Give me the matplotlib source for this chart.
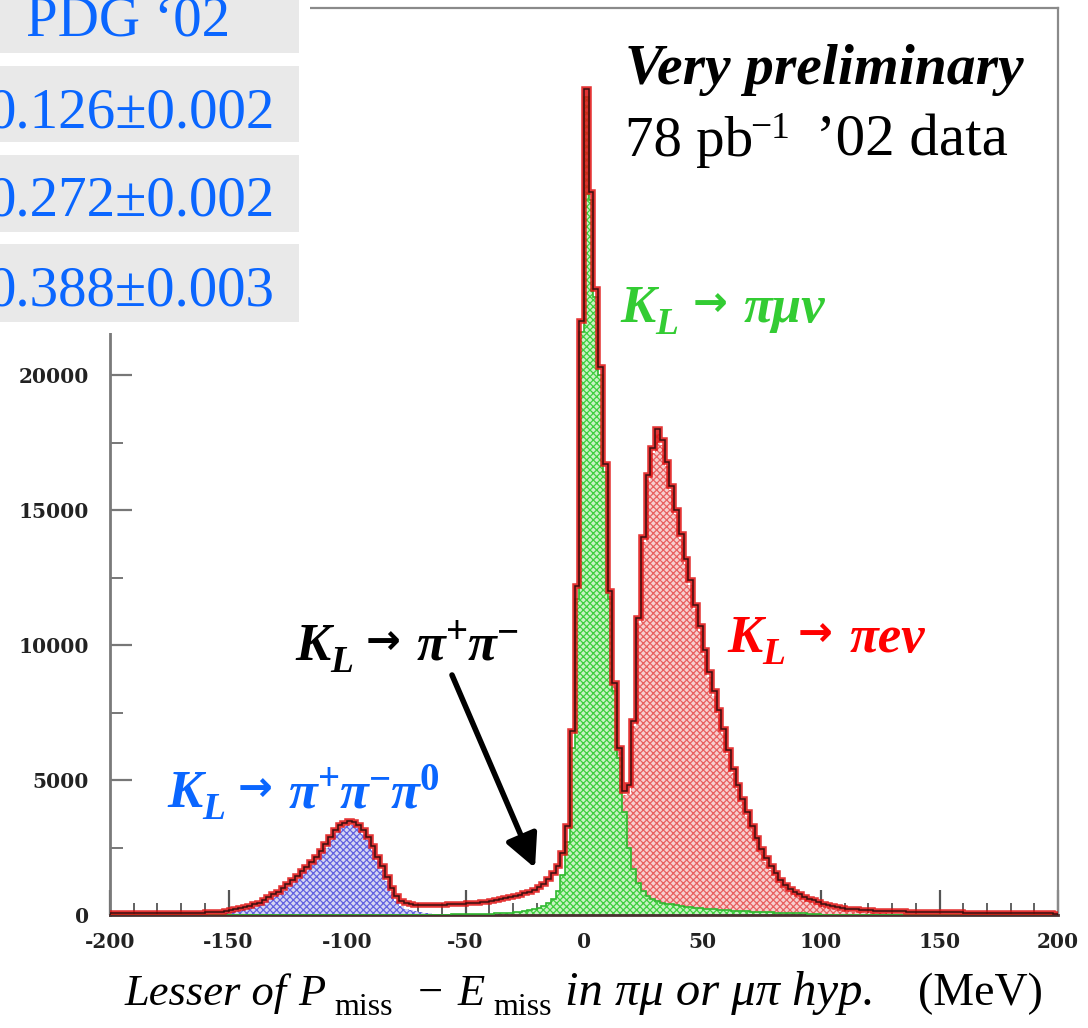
import numpy as np
import matplotlib
matplotlib.use("Agg")
import matplotlib.pyplot as plt
from matplotlib.patches import Rectangle
from matplotlib.ticker import MultipleLocator

# ---------------- data (2 MeV bins from -200 to 200) ----------------
BIN_LO, BIN_HI, BIN_W = -200, 200, 2

# observed data (total), bin centres -199 ... 199
data_total = [
    60, 60, 65, 60, 70, 65, 70, 70, 75, 70,
    75, 75, 80, 75, 80, 85, 80, 85, 90, 90,
    95, 100, 110, 125, 145, 175, 210, 250, 290, 330,
    390, 460, 560, 660, 760, 870, 1000, 1150, 1300, 1450,
    1620, 1780, 1950, 2150, 2380, 2620, 2900, 3150, 3350, 3420,
    3480, 3450, 3350, 3150, 2900, 2550, 2150, 1800, 1400, 1000,
    700, 520, 430, 400, 380, 370, 370, 370, 375, 380,
    385, 390, 400, 410, 420, 430, 445, 460, 480, 500,
    530, 560, 590, 620, 660, 700, 750, 800, 860, 930,
    1020, 1150, 1350, 1550, 1800, 2300, 3300, 6800, 12200, 22000,
    30600, 26800, 23200, 20300, 16700, 12000, 8600, 6200, 4600, 4800,
    7200, 11000, 14000, 16300, 17300, 18000, 17600, 16800, 15900, 15000,
    14100, 13200, 12400, 11500, 10700, 9800, 9000, 8300, 7600, 6900,
    6100, 5400, 4800, 4300, 3800, 3300, 2850, 2450, 2100, 1800,
    1550, 1300, 1120, 980, 860, 760, 680, 610, 540, 480,
    420, 370, 330, 295, 265, 240, 220, 205, 190, 180,
    170, 160, 155, 150, 145, 140, 135, 130, 125, 120,
    118, 115, 112, 110, 108, 105, 102, 100, 98, 95,
    92, 90, 88, 85, 83, 80, 78, 76, 74, 72,
    70, 68, 66, 65, 63, 62, 60, 58, 57, 55,
]

# K_L -> pi mu nu (MC), starting at -60 MeV
pimunu_start = -60
pimunu = [
    15, 18, 20, 22, 25, 28, 32, 36, 40, 45,
    50, 58, 66, 75, 85, 100, 120, 145, 175, 210,
    260, 330, 430, 600, 900, 1500, 2700, 6200, 11700, 21600,
    30300, 26500, 22900, 20000, 16400, 11700, 8300, 5800, 3800, 2500,
    1700, 1200, 900, 720, 600, 520, 460, 420, 390, 360,
    335, 310, 290, 270, 250, 235, 220, 205, 190, 180,
    170, 160, 150, 140, 130, 122, 115, 108, 100, 95,
    90, 85, 80, 75, 70, 65, 60, 55, 50, 45,
]

# K_L -> pi e nu (MC), starting at +10 MeV
pienu_start = 10
pienu = [
    100, 200, 350, 650, 2000,
    5300, 9600, 12900, 15400, 16500, 17300, 16950, 16200, 15350, 14500,
    13600, 12700, 11950, 11050, 10270, 9390, 8600, 7920, 7240, 6560,
    5800, 5110, 4520, 4030, 3540, 3050, 2610, 2220, 1880, 1590,
    1370, 1125, 950, 815, 700, 605, 530, 465, 400, 345,
    290, 245, 210, 180, 155, 135, 120, 105, 95, 85,
    78, 70, 65, 60, 55, 50, 46, 42, 38, 35,
    32, 30, 28, 26, 24, 22, 20, 18, 16, 15,
]

# K_L -> pi+ pi- pi0 (MC), starting at -160 MeV
pipipi0_start = -160
pipipi0 = [
    20, 25, 35, 50, 70, 100, 135, 175, 215, 255,
    310, 380, 475, 570, 670, 775, 900, 1050, 1195, 1345,
    1515, 1670, 1840, 2035, 2265, 2500, 2780, 3030, 3225, 3295,
    3350, 3320, 3215, 3015, 2765, 2410, 2005, 1650, 1245, 840,
    530, 340, 230, 170, 130, 100, 80, 60, 45, 35,
    25, 20, 15, 10, 8, 6, 4, 3, 2, 1,
]

x_ticks = [-200, -150, -100, -50, 0, 50, 100, 150, 200]
y_ticks = [0, 5000, 10000, 15000, 20000]

pdg_header = "PDG \u201802"
pdg_values = ["0.126\u00b10.002", "0.272\u00b10.002", "0.388\u00b10.003"]

# ---------------- helpers ----------------
W, H = 1088, 1028
edges = np.arange(BIN_LO, BIN_HI + BIN_W, BIN_W)
nb = len(edges) - 1


def place(values, start):
    out = np.zeros(nb)
    i0 = (start - BIN_LO) // BIN_W
    out[i0:i0 + len(values)] = values
    return out


g = place(pimunu, pimunu_start)
r = place(pienu, pienu_start)
b = place(pipipi0, pipipi0_start)
tot = np.array(data_total, dtype=float)
mc_total = np.maximum(tot, g + r + b)

fig = plt.figure(figsize=(W / 100, H / 100), dpi=100)
fig.patch.set_facecolor("white")

ax = fig.add_axes([110 / W, (H - 915) / H, 948 / W, 907 / H])
ax.set_xlim(-200, 200)
ax.set_ylim(0, 33600)

plt.rcParams["hatch.linewidth"] = 0.9

# stacked components: green (bottom), red, blue
c0 = np.zeros(nb)
c1 = g
c2 = g + r
c3 = g + r + b
ax.stairs(c1, edges, baseline=c0, fill=True, facecolor="#c9f2c4",
          edgecolor="#3fcf3f", hatch="xxxxx", linewidth=0, zorder=2)
ax.stairs(c2, edges, baseline=c1, fill=True, facecolor="#f7cfcf",
          edgecolor="#e86060", hatch="xxxxx", linewidth=0, zorder=2)
ax.stairs(c3, edges, baseline=c2, fill=True, facecolor="#d6d6f2",
          edgecolor="#6262e0", hatch="xxxxx", linewidth=0, zorder=2)
ax.stairs(c1, edges, color="#30b830", lw=1.2, zorder=3)

# data (red, thick) and MC total outline (dark)
ax.stairs(tot, edges, color="#e01010", lw=4.0, alpha=0.85, zorder=4)
ax.stairs(mc_total, edges, color="#3a1010", lw=1.1, zorder=5)

# axes styling
for side in ["top", "right"]:
    ax.spines[side].set_color("#8a8a8a")
    ax.spines[side].set_linewidth(1.6)
ax.spines["left"].set_color("#7a7a7a")
ax.spines["left"].set_linewidth(2.0)
ax.spines["bottom"].set_color("#4a3030")
ax.spines["bottom"].set_linewidth(2.0)

ax.set_xticks(x_ticks)
ax.set_yticks(y_ticks)
ax.set_xticklabels([str(v) for v in x_ticks])
ax.set_yticklabels([str(v) for v in y_ticks])
ax.xaxis.set_minor_locator(MultipleLocator(10))
ax.yaxis.set_minor_locator(MultipleLocator(2500))
ax.tick_params(axis="x", which="major", direction="in", length=18, width=1.6,
               color="#555555", pad=12)
ax.tick_params(axis="x", which="minor", direction="in", length=9, width=1.3,
               color="#555555")
ax.tick_params(axis="y", which="major", direction="in", length=16, width=1.6,
               color="#777777", pad=15)
ax.tick_params(axis="y", which="minor", direction="in", length=9, width=1.4,
               color="#777777")
ax.tick_params(top=False, right=False, which="both")
for lab in ax.get_xticklabels() + ax.get_yticklabels():
    lab.set_fontfamily(["DejaVu Serif"])
    lab.set_fontweight("bold")
    lab.set_fontsize(14.5)
    lab.set_color("#222222")

# white mask over top-left and PDG table
fig.patches.append(Rectangle((0, (H - 333) / H), 310 / W, 333 / H,
                             transform=fig.transFigure, facecolor="white",
                             edgecolor="none", zorder=10))
boxes = [(0, 53), (66, 142), (155, 232), (244, 322)]
for (y0, y1) in boxes:
    extra = 0.01 if y0 == 0 else 0
    fig.patches.append(Rectangle((0, (H - y1) / H), 299 / W, (y1 - y0) / H + extra,
                                 transform=fig.transFigure, facecolor="#e9e9e9",
                                 edgecolor="none", zorder=11))

SERIF = ["Liberation Serif", "DejaVu Serif"]
SANS = ["DejaVu Sans"]
BLUE = "#0a66ff"
fig.text(128 / W, (H - 36) / H, pdg_header, ha="center", va="baseline",
         fontsize=41, color=BLUE, family=SERIF, zorder=12)
for val, yb in zip(pdg_values, [127, 216, 305]):
    fig.text(275 / W, (H - yb) / H, val, ha="right", va="baseline",
             fontsize=41, color=BLUE, family=SERIF, zorder=12)

renderer = fig.canvas.get_renderer()


def rich(x_px, y_base_px, segs, color, zorder=12):
    """segs: dicts with text, size, dy (px), style, weight, optional x, family"""
    x = x_px
    for sg in segs:
        if sg.get("x") is not None:
            x = sg["x"]
        t = fig.text(x / W, (H - y_base_px + sg["dy"]) / H, sg["s"], ha="left",
                     va="baseline", fontsize=sg["size"], color=color,
                     family=sg.get("family", SERIF), style=sg["style"],
                     weight=sg["weight"], zorder=zorder)
        bb = t.get_window_extent(renderer)
        x = bb.x1


BI = ("italic", "bold")
B = ("normal", "bold")
I = ("italic", "normal")
N = ("normal", "normal")


def seg(s, size, dy, st, x=None, family=None):
    d = dict(s=s, size=size, dy=dy, style=st[0], weight=st[1], x=x)
    if family is not None:
        d["family"] = family
    return d


FS = 38
SUB = 27
SUP = 28


def arrow_seg(x):
    return seg("\u2192", 30, 6, B, x=x, family=SANS)


# green label
rich(620, 322, [seg("K", FS, 0, BI), seg("L", SUB, -12, BI), arrow_seg(693),
                seg("\u03c0\u03bc\u03bd", FS, 0, BI, x=744)], "#33cc33")
# red label
rich(727, 652, [seg("K", FS, 0, BI), seg("L", SUB, -12, BI), arrow_seg(798),
                seg("\u03c0e\u03bd", FS, 0, BI, x=850)], "#ff0000")
# black label
rich(295, 660, [seg("K", FS, 0, BI), seg("L", SUB, -12, BI), arrow_seg(366),
                seg("\u03c0", FS, 0, BI, x=417), seg("+", SUP, 17, B),
                seg("\u03c0", FS, 0, BI), seg("\u2212", SUP, 17, B)], "black")
# blue label
rich(167, 807, [seg("K", FS, 0, BI), seg("L", SUB, -12, BI), arrow_seg(238),
                seg("\u03c0", FS, 0, BI, x=289), seg("+", SUP, 17, B),
                seg("\u03c0", FS, 0, BI), seg("\u2212", SUP, 17, B),
                seg("\u03c0", FS, 0, BI), seg("0", SUP, 17, B)], BLUE)

# annotation text top right
rich(625, 84, [seg("Very preliminary", 41.5, 0, BI)], "black")
rich(625, 156, [seg("78 pb", 41, 0, N), seg("\u22121", 27, 18, N, x=750),
                seg("\u201902 data", 42.5, 0, N, x=816)], "black")

# x label
XS = 32
XSUB = 23
rich(125, 1005, [seg("Lesser of ", XS, 0, I), seg("P", XS, 0, I),
                 seg("miss", XSUB, -10, N, x=334),
                 seg("\u2212", XS, 0, N, x=418),
                 seg("E", XS, 0, I, x=458), seg("miss", XSUB, -10, N, x=493),
                 seg("in \u03c0\u03bc or \u03bc\u03c0 hyp.", 35, 0, I, x=565),
                 seg("(MeV)", 33, 0, N, x=918)], "black")

# arrow pointing to pi+pi- shoulder
x0, y0 = 452, 675
x1, y1 = 535, 868
ax.annotate("", xy=(x1 / W, (H - y1) / H), xycoords="figure fraction",
            xytext=(x0 / W, (H - y0) / H), textcoords="figure fraction",
            arrowprops=dict(arrowstyle="-|>,head_length=2.0,head_width=1.0",
                            color="black", lw=4, shrinkA=0, shrinkB=0),
            zorder=8, annotation_clip=False)

fig.savefig("out.png", dpi=100, facecolor="white")
